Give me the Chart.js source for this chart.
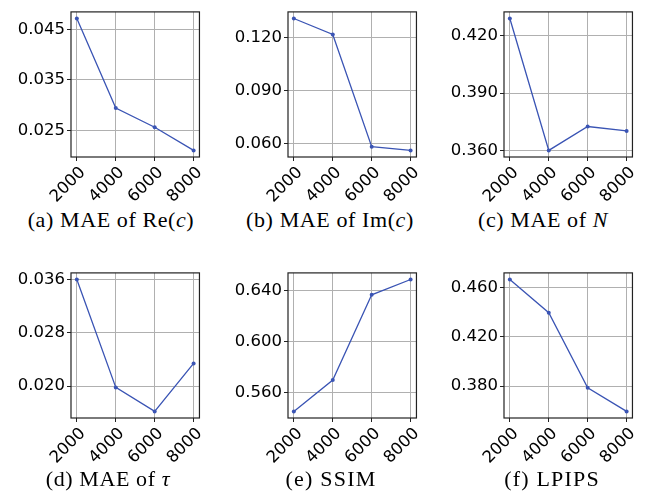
<!DOCTYPE html>
<html>
<head>
<meta charset="utf-8">
<script src="https://cdn.jsdelivr.net/npm/chart.js@4"></script>
<style>
  body { margin: 0; background: #fff; }
  #page { position: relative; width: 656px; height: 496px; overflow: hidden; }
  .panel { position: absolute; width: 210px; height: 207px; }
  .cap {
    position: absolute; width: 220px; text-align: center;
    font-family: "Liberation Serif", "DejaVu Serif", serif; font-size: 22px;
    letter-spacing: 0.6px; line-height: 20px; color: #000; white-space: nowrap;
  }
  .wide { letter-spacing: 1.2px; }
</style>
</head>
<body>
<div id="page">
  <div class="panel" style="left:0px;top:0px"><canvas id="c1" width="210" height="207"></canvas></div>
  <div class="panel" style="left:217px;top:0px"><canvas id="c2" width="210" height="207"></canvas></div>
  <div class="panel" style="left:433px;top:0px"><canvas id="c3" width="210" height="207"></canvas></div>
  <div class="panel" style="left:0px;top:261px"><canvas id="c4" width="210" height="207"></canvas></div>
  <div class="panel" style="left:217px;top:261px"><canvas id="c5" width="210" height="207"></canvas></div>
  <div class="panel" style="left:433px;top:261px"><canvas id="c6" width="210" height="207"></canvas></div>

  <div class="cap" style="left:1px;top:210px">(a) MAE of Re(<i>c</i>)</div>
  <div class="cap" style="left:220px;top:210px">(b) MAE of Im(<i>c</i>)</div>
  <div class="cap" style="left:433px;top:210px">(c) MAE of <i>N</i></div>
  <div class="cap" style="left:-2px;top:469px">(d) MAE of <i>τ</i></div>
  <div class="cap wide" style="left:221px;top:469px">(e) SSIM</div>
  <div class="cap wide" style="left:442px;top:469px">(f) LPIPS</div>
</div>
<script>
// training set sizes on the x axis
const steps = [2000, 4000, 6000, 8000];

// metric values per panel
const maeRe = [0.0472, 0.0294, 0.0256, 0.0210];
const maeIm = [0.1309, 0.1218, 0.0581, 0.0560];
const maeN = [0.4290, 0.3600, 0.3725, 0.3702];
const maeTau = [0.0360, 0.0198, 0.0162, 0.0234];
const ssim = [0.5454, 0.5700, 0.6368, 0.6488];
const lpips = [0.4668, 0.4397, 0.3787, 0.3594];

// y tick labels per panel
const ticksRe = [0.025, 0.035, 0.045];
const ticksIm = [0.060, 0.090, 0.120];
const ticksN = [0.360, 0.390, 0.420];
const ticksTau = [0.020, 0.028, 0.036];
const ticksSsim = [0.560, 0.600, 0.640];
const ticksLpips = [0.380, 0.420, 0.460];

const lineColor = '#3a54b4';
const tickFont = { family: 'DejaVu Sans', size: 16.5 };

// black box around the plot area
const frame = {
  id: 'frame',
  beforeDatasetsDraw(chart) {
    const a = chart.chartArea;
    const ctx = chart.ctx;
    ctx.save();
    ctx.strokeStyle = '#222';
    ctx.lineWidth = 1.2;
    ctx.strokeRect(a.left, a.top, a.right - a.left, a.bottom - a.top);
    ctx.restore();
  }
};

function makePanel(id, vals, yTicks) {
  let lo = Math.min(...vals), hi = Math.max(...vals);
  let pad = (hi - lo) * 0.05;
  new Chart(document.getElementById(id), {
    type: 'line',
    data: {
      datasets: [{
        data: steps.map((s, i) => ({ x: s, y: vals[i] })),
        borderColor: lineColor,
        backgroundColor: lineColor,
        borderWidth: 1.3,
        pointRadius: 2,
        pointBorderWidth: 0,
        tension: 0
      }]
    },
    options: {
      responsive: false,
      animation: false,
      layout: { padding: { top: 5, right: 8.5, left: 0, bottom: 0 } },
      plugins: { legend: { display: false }, tooltip: { enabled: false } },
      scales: {
        x: {
          type: 'linear',
          min: 1700,
          max: 8300,
          afterBuildTicks: s => { s.ticks = steps.map(v => ({ value: v })) },
          afterFit: s => { s.height = 50 },
          border: { display: false },
          grid: { color: '#b0b0b0', lineWidth: 1, tickLength: 4, tickColor: '#222' },
          ticks: {
            autoSkip: false, maxRotation: 45, minRotation: 45,
            padding: 2, labelOffset: 6,
            color: '#000', font: tickFont,
            callback: v => String(v)
          }
        },
        y: {
          min: lo - pad,
          max: hi + pad,
          afterBuildTicks: s => { s.ticks = yTicks.map(v => ({ value: v })) },
          afterFit: s => { s.width = 71 },
          border: { display: false },
          grid: { color: '#b0b0b0', lineWidth: 1, tickLength: 4, tickColor: '#222' },
          ticks: {
            padding: 2,
            color: '#000', font: tickFont,
            callback: v => v.toFixed(3)
          }
        }
      }
    },
    plugins: [frame]
  });
}

makePanel('c1', maeRe, ticksRe);
makePanel('c2', maeIm, ticksIm);
makePanel('c3', maeN, ticksN);
makePanel('c4', maeTau, ticksTau);
makePanel('c5', ssim, ticksSsim);
makePanel('c6', lpips, ticksLpips);
</script>
</body>
</html>
